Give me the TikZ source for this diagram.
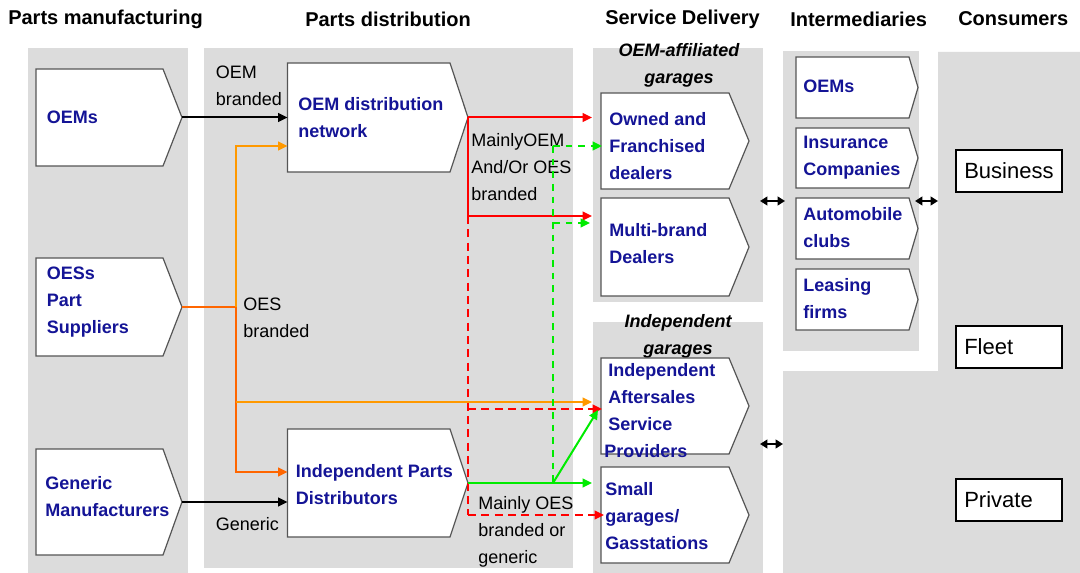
\documentclass[tikz,border=0pt]{standalone}
\usepackage{fontspec}
\setmainfont{Liberation Sans}
\usetikzlibrary{arrows.meta}
\definecolor{panel}{RGB}{220,220,220}
\definecolor{navy}{RGB}{20,20,150}
\definecolor{boxgray}{RGB}{85,85,85}
\definecolor{oraL}{RGB}{255,153,0}
\definecolor{oraD}{RGB}{255,102,0}
\definecolor{grn}{RGB}{0,235,0}
\definecolor{rd}{RGB}{255,0,0}
\newcommand\chevbox[6]{%
  \draw[chev] (#2,#3) -- (#4,#3) -- (#5,{(#3+#6)/2}) -- (#4,#6) -- (#2,#6) -- cycle;
  \coordinate (#1-tip) at (#5,{(#3+#6)/2});
  \coordinate (#1-w) at (#2,{(#3+#6)/2});
}
\begin{document}
\begin{tikzpicture}[x=0.75pt,y=-0.75pt,
  chev/.style={draw=boxgray, fill=white, line width=0.9pt},
  btxt/.style={anchor=west, inner sep=0pt, align=left, text=navy, font=\bfseries\fontsize{13.5}{20.25}\selectfont},
  lbl/.style={anchor=west, inner sep=0pt, align=left, font=\fontsize{13.5}{20.25}\selectfont},
  hdr/.style={anchor=west, inner sep=0pt, font=\bfseries\fontsize{15}{18}\selectfont},
  ital/.style={inner sep=0pt, align=center, font=\bfseries\itshape\fontsize{13.5}{20.25}\selectfont},
  cons/.style={draw=black, fill=white, line width=1pt, minimum width=79.5pt, minimum height=31.5pt, inner sep=0pt},
  ctxt/.style={anchor=west, inner sep=0pt, font=\fontsize{16.5}{20}\selectfont},
  tip/.style={-{Triangle[length=7pt,width=6.5pt]}},
  dtip/.style={{Triangle[length=5.5pt,width=6.5pt]}-{Triangle[length=5.5pt,width=6.5pt]}},
  blk/.style={draw=black, line width=1.5pt},
  redl/.style={draw=rd, line width=1.5pt},
  rdash/.style={draw=rd, line width=1.5pt, dash pattern=on 6pt off 4pt},
  gdash/.style={draw=grn, line width=1.5pt, dash pattern=on 5pt off 4.5pt},
  gsol/.style={draw=grn, line width=1.5pt},
  oral/.style={draw=oraL, line width=1.5pt},
  orad/.style={draw=oraD, line width=1.5pt}
]
\useasboundingbox (0,0) rectangle (1080,573);
\fill[white] (0,0) rectangle (1080,573);
% panels
\fill[panel] (28,48) rectangle (188,573);
\fill[panel] (204,48) rectangle (573,568);
\fill[panel] (593,48) rectangle (763,302);
\fill[panel] (593,322) rectangle (763,573);
\fill[panel] (783,51) rectangle (919,351);
\fill[panel] (938,52) -- (1080,52) -- (1080,573) -- (783,573) -- (783,371) -- (938,371) -- cycle;
% headers
\node[hdr] (h1) at (8,19) {Parts manufacturing};
\node[hdr] (h2) at (305,19) {Parts distribution};
\node[hdr] (h3) at (605,19) {Service Delivery};
\node[hdr] (h4) at (790,19) {Intermediaries};
\node[hdr] (h5) at (958,19) {Consumers};
\node[ital] (g1) at (679,65) {OEM-affiliated\\garages};
\node[ital] (g2) at (678,336.5) {Independent\\garages};
% boxes
\chevbox{oems}{36}{69}{163}{182}{166}
\chevbox{oess}{36}{258}{163}{182}{356}
\chevbox{gen}{36}{449}{163}{182}{555}
\chevbox{oemd}{287.5}{63}{450}{468}{172}
\chevbox{ipd}{287.5}{429}{450}{468}{537}
\chevbox{owned}{601}{93}{729}{749}{189}
\chevbox{multi}{601}{198}{729}{749}{296}
\chevbox{iasp}{601}{358}{729}{749}{454}
\chevbox{small}{601}{467}{729}{749}{563}
\chevbox{ioem}{796}{57}{909}{918}{118}
\chevbox{iins}{796}{128}{909}{918}{188}
\chevbox{iauto}{796}{198}{909}{918}{259}
\chevbox{ilease}{796}{269}{909}{918}{330}
\node[btxt] (t-oems) at (46.5,117) {OEMs};
\node[btxt] (t-oess) at (46.5,302.5) {OESs\\Part\\Suppliers};
\node[btxt] (t-gen) at (45,496.5) {Generic\\Manufacturers};
\node[btxt] (t-oemd) at (298,118) {OEM distribution\\network};
\node[btxt] (t-ipd) at (295.5,485) {Independent Parts\\Distributors};
\node[btxt] (t-owned) at (609,146) {Owned and\\Franchised\\dealers};
\node[btxt] (t-multi) at (609,244) {Multi-brand\\Dealers};
\node[btxt] (t-iasp) at (608,397) {Independent\\Aftersales\\Service};
\node[btxt] (t-prov) at (604,451) {Providers};
\node[btxt] (t-small) at (605,516.5) {Small\\garages/\\Gasstations};
\node[btxt] (t-ioem) at (803,86) {OEMs};
\node[btxt] (t-iins) at (803,157.5) {Insurance\\Companies};
\node[btxt] (t-iauto) at (803,228) {Automobile\\clubs};
\node[btxt] (t-ilease) at (803,298.5) {Leasing\\firms};
% consumers
\node[cons] (bus) at (1009,171) {};
\node[cons] (fleet) at (1009,347) {};
\node[cons] (priv) at (1009,500) {};
\node[ctxt] (t-bus) at (964,171) {Business};
\node[ctxt] (t-fleet) at (964,347) {Fleet};
\node[ctxt] (t-priv) at (964,500) {Private};
% labels
\node[lbl] (l1) at (215.6,85.5) {OEM\\branded};
\node[lbl] (l2) at (243,317.5) {OES\\branded};
\node[lbl] (l3) at (215.6,524) {Generic};
\node[lbl] (l4) at (471,167) {MainlyOEM\\And/Or OES\\branded};
\node[lbl] (l5) at (478,531.5) {Mainly OES\\branded or\\generic};
% coordinates
\coordinate (oesj) at (235.5,307);
\coordinate (oesm) at (235.5,402);
\coordinate (oemdin) at (287.5,146);
\coordinate (ipdin) at (287.5,472);
\coordinate (genin) at (287.5,502);
\coordinate (ownE) at (592,117.5);
\coordinate (rj) at (468,216);
\coordinate (mulE) at (592,216);
\coordinate (rb) at (468,515);
\coordinate (rm) at (468,409);
\coordinate (iaspR) at (602,409);
\coordinate (smallR) at (604,515);
\coordinate (gt) at (553,146);
\coordinate (gm) at (553,223);
\coordinate (gb) at (553,483);
\coordinate (ownG) at (602,146);
\coordinate (mulG) at (590,223);
\coordinate (smallG) at (592,483);
\coordinate (iaspG) at (598,410);
\coordinate (iaspO) at (592,402);
% black arrows
\draw[blk,tip] (oems-tip) -- (oemd-w);
\draw[blk,tip] (gen-tip) -- (genin);
% orange
\draw[orad] (oess-tip) -- (oesj);
\draw[orad,tip] (oesj) |- (ipdin);
\draw[oral,tip] (oesj) |- (oemdin);
\draw[oral,tip] (oesm) -- (iaspO);
% red
\draw[redl,tip] (oemd-tip) -- (ownE);
\draw[redl,tip] (oemd-tip) -- (rj) -- (mulE);
\draw[rdash] (rj) -- (rb);
\draw[rdash,tip] (rm) -- (iaspR);
\draw[rdash,tip] (rb) -- (smallR);
% green
\draw[gdash] (gt) -- (gb);
\draw[gdash,tip] (gt) -- (ownG);
\draw[gdash,tip] (gm) -- (mulG);
\draw[gsol,tip] (ipd-tip) -- (smallG);
\draw[gsol,tip] (gb) -- (iaspG);
% double arrows
\coordinate (d1a) at (760,201); \coordinate (d1b) at (785,201);
\coordinate (d2a) at (915,201); \coordinate (d2b) at (938,201);
\coordinate (d3a) at (760,444); \coordinate (d3b) at (783,444);
\draw[blk,dtip] (d1a) -- (d1b);
\draw[blk,dtip] (d2a) -- (d2b);
\draw[blk,dtip] (d3a) -- (d3b);
\end{tikzpicture}
\end{document}
